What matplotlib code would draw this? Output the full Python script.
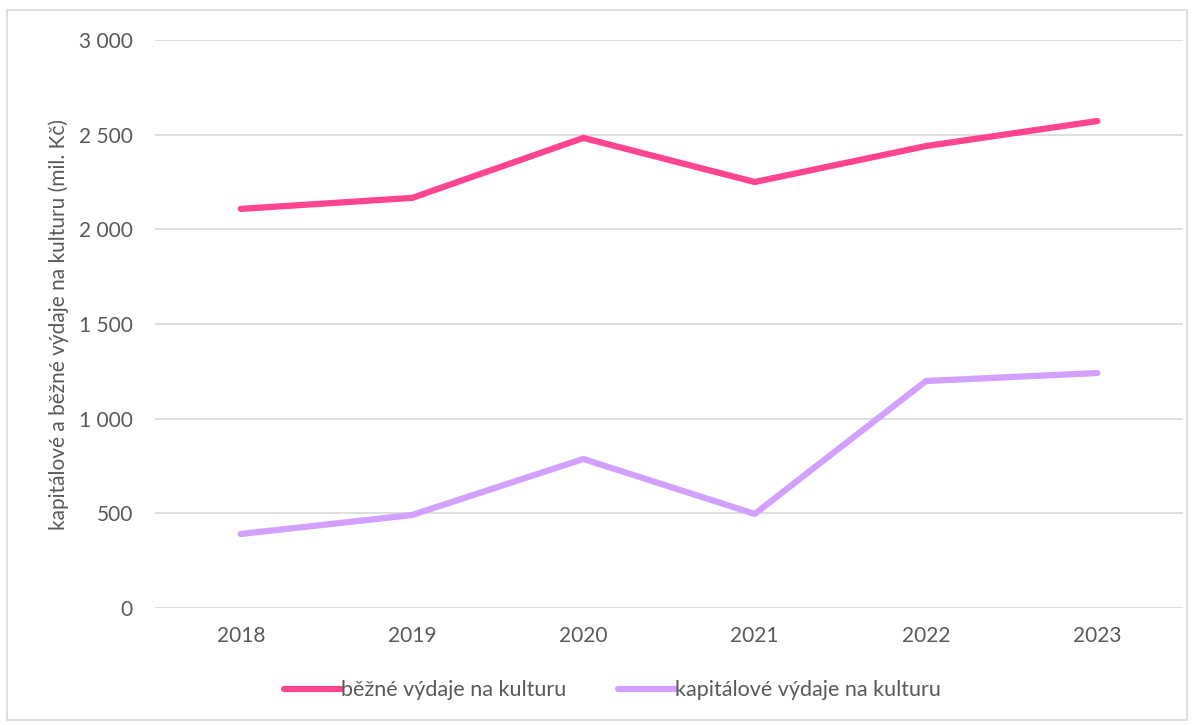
import matplotlib.pyplot as plt
from matplotlib.patches import Rectangle
from matplotlib.ticker import FuncFormatter

years = ['2018', '2019', '2020', '2021', '2022', '2023']
bezne = [2108, 2166, 2483, 2250, 2440, 2572]
kapitalove = [391, 491, 787, 497, 1199, 1241]

plt.rcParams['font.family'] = ['Lato', 'DejaVu Sans']
text_col = '#595959'
fs = 15

fig = plt.figure(figsize=(11.93, 7.25), dpi=100)
ax = fig.add_axes([0.130, 0.1614, 0.8616, 0.7834])

x = range(len(years))
ax.plot(x, bezne, color='#FF4490', lw=4.5, solid_capstyle='round', label='běžné výdaje na kulturu', zorder=3)
ax.plot(x, kapitalove, color='#D3A0FF', lw=4.5, solid_capstyle='round', label='kapitálové výdaje na kulturu', zorder=3)

ax.set_xlim(-0.5, len(years) - 0.5)
ax.set_ylim(0, 3000)
ax.set_yticks(range(0, 3001, 500))
ax.yaxis.set_major_formatter(FuncFormatter(lambda v, p: f'{int(v):,}'.replace(',', ' ')))
ax.set_xticks(list(x))
ax.set_xticklabels(years)
ax.grid(axis='y', color='#D9D9D9', lw=1.2)
ax.set_axisbelow(True)
for s in ax.spines.values():
    s.set_visible(False)
ax.tick_params(length=0, labelsize=fs, colors=text_col)
ax.tick_params(axis='y', pad=16)
ax.tick_params(axis='x', pad=13)
ax.set_ylabel('kapitálové a běžné výdaje na kulturu (mil. Kč)', fontsize=fs, color=text_col, labelpad=7)

leg = fig.legend(loc='center', bbox_to_anchor=(0.513, 0.048), ncol=2, frameon=False,
                 fontsize=15.5, handlelength=2.65, handletextpad=0.0, columnspacing=2.4)
for t in leg.get_texts():
    t.set_color(text_col)

fig.patches.append(Rectangle((0.006, 0.007), 0.989, 0.979, transform=fig.transFigure,
                             fill=False, edgecolor='#D9D9D9', lw=1.2))

fig.savefig('out.png', dpi=100)
